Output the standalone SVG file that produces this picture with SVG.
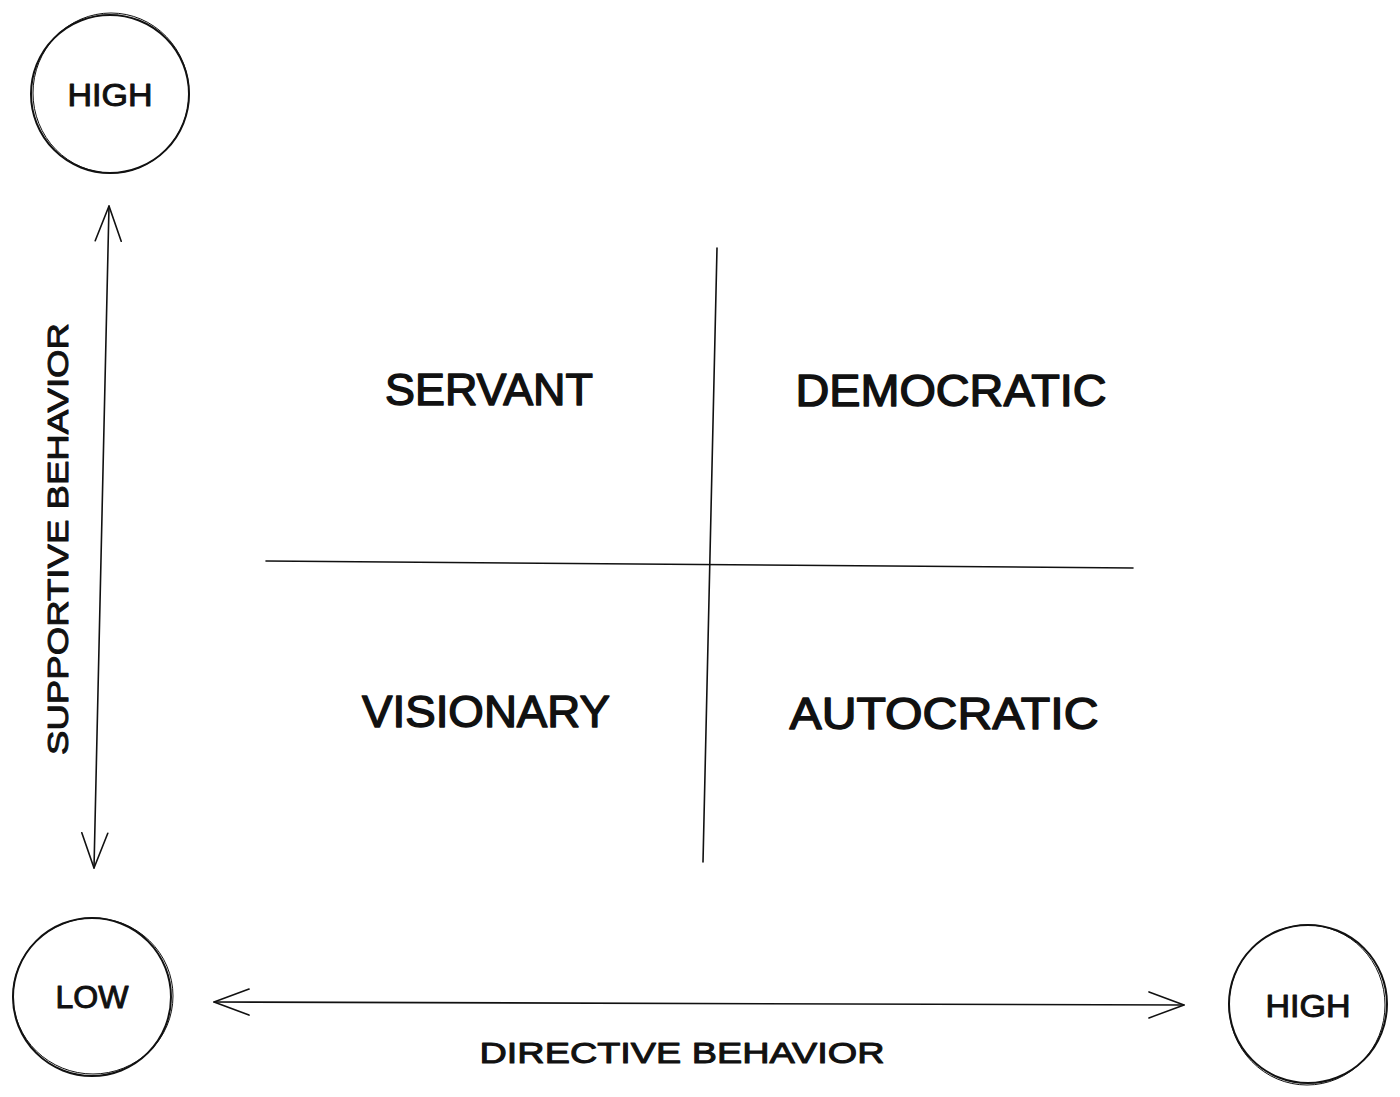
<svg xmlns="http://www.w3.org/2000/svg" width="1400" height="1097" viewBox="0 0 1400 1097">
  <defs>
    <style>
      .bg { fill: #ffffff; }
      .circ { fill: none; stroke: #111; stroke-width: 2; }
      .circ2 { fill: none; stroke: #111; stroke-width: 1; }
      .line { fill: none; stroke: #111; stroke-width: 1.6; stroke-linecap: round; }
      .txt { font-family: "Liberation Sans", Arial, sans-serif; fill: #111; text-anchor: middle; stroke: #111; stroke-width: 1; stroke-linejoin: round; }
      .quad { font-size: 44px; stroke-width: 1.4; }
      .lvl { font-size: 32px; }
      .axis { font-size: 30px; }
    </style>
    <marker id="head" viewBox="0 0 40 30" markerUnits="userSpaceOnUse" markerWidth="40" markerHeight="30" refX="36" refY="14" orient="auto-start-reverse">
      <path d="M1,1 L36,14 L1,27" fill="none" stroke="#111" stroke-width="1.6" stroke-linecap="round" stroke-linejoin="round"/>
    </marker>
  </defs>
  <rect class="bg" x="0" y="0" width="1400" height="1097"/>

  <g id="connectors">
    <path id="axis-supportive" class="line" d="M109,206 L94,868" marker-start="url(#head)" marker-end="url(#head)"/>
    <path id="axis-directive" class="line" d="M214,1002 L1184,1005" marker-start="url(#head)" marker-end="url(#head)"/>
    <path id="divider-vertical" class="line" d="M717,248 L703,862"/>
    <path id="divider-horizontal" class="line" d="M266,561 L1133,568"/>
  </g>

  <g id="node-high-supportive">
    <circle class="circ" cx="110" cy="94" r="79"/>
    <ellipse class="circ2" cx="111" cy="93" rx="78" ry="80"/>
    <text class="txt lvl" x="110" y="106" textLength="85" lengthAdjust="spacingAndGlyphs">HIGH</text>
  </g>

  <g id="node-low">
    <circle class="circ" cx="92" cy="997" r="79"/>
    <ellipse class="circ2" cx="93" cy="996" rx="80" ry="78"/>
    <text class="txt lvl" x="92" y="1008" textLength="73" lengthAdjust="spacingAndGlyphs">LOW</text>
  </g>

  <g id="node-high-directive">
    <circle class="circ" cx="1308" cy="1004" r="79"/>
    <ellipse class="circ2" cx="1307" cy="1005" rx="78" ry="80"/>
    <text class="txt lvl" x="1308" y="1017" textLength="85" lengthAdjust="spacingAndGlyphs">HIGH</text>
  </g>

  <g id="label-servant">
    <text class="txt quad" x="489" y="405" textLength="208" lengthAdjust="spacingAndGlyphs">SERVANT</text>
  </g>
  <g id="label-democratic">
    <text class="txt quad" x="951" y="406" textLength="311" lengthAdjust="spacingAndGlyphs">DEMOCRATIC</text>
  </g>
  <g id="label-visionary">
    <text class="txt quad" x="486" y="727" textLength="248" lengthAdjust="spacingAndGlyphs">VISIONARY</text>
  </g>
  <g id="label-autocratic">
    <text class="txt quad" x="944" y="729" textLength="309" lengthAdjust="spacingAndGlyphs">AUTOCRATIC</text>
  </g>

  <g id="label-supportive-behavior">
    <text class="txt axis" transform="translate(68,539) rotate(-90)" x="0" y="0" textLength="432" lengthAdjust="spacingAndGlyphs">SUPPORTIVE BEHAVIOR</text>
  </g>
  <g id="label-directive-behavior">
    <text class="txt axis" x="682" y="1063" textLength="405" lengthAdjust="spacingAndGlyphs">DIRECTIVE BEHAVIOR</text>
  </g>
</svg>
